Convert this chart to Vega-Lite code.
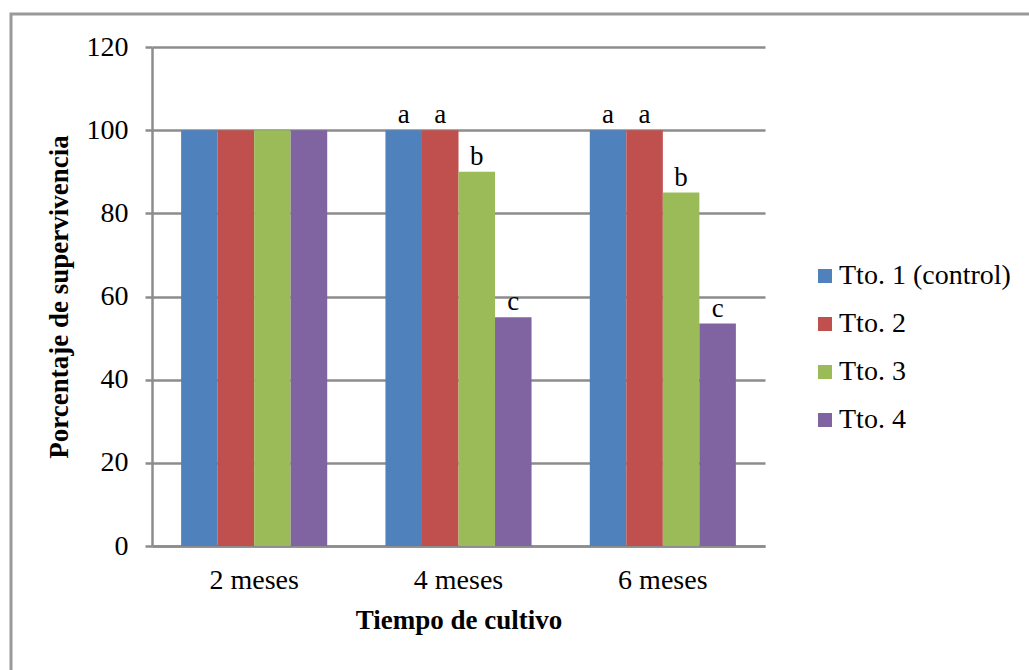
{
  "$schema": "https://vega.github.io/schema/vega-lite/v6.json",
  "width": 1021,
  "height": 659,
  "autosize": {"type": "none"},
  "padding": {"left": 11, "top": 14, "right": 0, "bottom": 0},
  "background": "white",
  "config": {
    "view": {"stroke": "#9a9a9a", "strokeWidth": 3},
    "font": "Liberation Serif",
    "axis": {
      "labelFont": "Liberation Serif",
      "titleFont": "Liberation Serif",
      "labelColor": "#000000",
      "titleColor": "#000000",
      "labelFontSize": 28,
      "titleFontSize": 27,
      "titleFontWeight": "bold",
      "domainColor": "#8c8c8c",
      "domainWidth": 2.5,
      "tickColor": "#8c8c8c",
      "tickWidth": 2.5,
      "gridColor": "#8c8c8c",
      "gridWidth": 2.5
    },
    "legend": {
      "labelFont": "Liberation Serif",
      "labelFontSize": 28,
      "labelColor": "#000000",
      "labelLimit": 400
    }
  },
  "data": {
    "values": [
      {"tiempo": "2 meses", "tratamiento": "Tto. 1 (control)", "valor": 100, "letra": ""},
      {"tiempo": "2 meses", "tratamiento": "Tto. 2", "valor": 100, "letra": ""},
      {"tiempo": "2 meses", "tratamiento": "Tto. 3", "valor": 100, "letra": ""},
      {"tiempo": "2 meses", "tratamiento": "Tto. 4", "valor": 100, "letra": ""},
      {"tiempo": "4 meses", "tratamiento": "Tto. 1 (control)", "valor": 100, "letra": "a"},
      {"tiempo": "4 meses", "tratamiento": "Tto. 2", "valor": 100, "letra": "a"},
      {"tiempo": "4 meses", "tratamiento": "Tto. 3", "valor": 90, "letra": "b"},
      {"tiempo": "4 meses", "tratamiento": "Tto. 4", "valor": 55, "letra": "c"},
      {"tiempo": "6 meses", "tratamiento": "Tto. 1 (control)", "valor": 100, "letra": "a"},
      {"tiempo": "6 meses", "tratamiento": "Tto. 2", "valor": 100, "letra": "a"},
      {"tiempo": "6 meses", "tratamiento": "Tto. 3", "valor": 85, "letra": "b"},
      {"tiempo": "6 meses", "tratamiento": "Tto. 4", "valor": 53.5, "letra": "c"}
    ]
  },
  "encoding": {
    "x": {
      "field": "tiempo",
      "type": "nominal",
      "sort": ["2 meses", "4 meses", "6 meses"],
      "scale": {"range": [141, 754], "paddingInner": 0.285, "paddingOuter": 0.1425},
      "axis": {
        "title": "Tiempo de cultivo",
        "labelAngle": 0,
        "ticks": false,
        "tickSize": 0,
        "grid": false,
        "offset": -127,
        "labelPadding": 20,
        "titlePadding": 13
      }
    },
    "xOffset": {
      "field": "tratamiento",
      "type": "nominal",
      "sort": ["Tto. 1 (control)", "Tto. 2", "Tto. 3", "Tto. 4"]
    },
    "y": {
      "field": "valor",
      "type": "quantitative",
      "scale": {"domain": [0, 120], "range": [532, 33], "nice": false},
      "axis": {
        "title": "Porcentaje de supervivencia",
        "values": [0, 20, 40, 60, 80, 100, 120],
        "offset": -141,
        "tickSize": 7,
        "labelPadding": 17,
        "titlePadding": 13,
        "grid": true
      }
    }
  },
  "layer": [
    {
      "mark": {"type": "bar"},
      "encoding": {
        "color": {
          "field": "tratamiento",
          "type": "nominal",
          "scale": {
            "domain": ["Tto. 1 (control)", "Tto. 2", "Tto. 3", "Tto. 4"],
            "range": ["#4F81BD", "#C0504D", "#9BBB59", "#8064A2"]
          },
          "legend": {
            "title": null,
            "orient": "none",
            "legendX": 800,
            "legendY": 248,
            "symbolType": "square",
            "symbolSize": 196,
            "symbolStrokeWidth": 0,
            "symbolOpacity": 1,
            "rowPadding": 20,
            "labelOffset": 0
          }
        }
      }
    },
    {
      "mark": {"type": "text", "baseline": "alphabetic", "align": "center", "dy": -7, "fontSize": 27, "font": "Liberation Serif", "color": "#000000"},
      "encoding": {
        "text": {"field": "letra"}
      }
    }
  ]
}
